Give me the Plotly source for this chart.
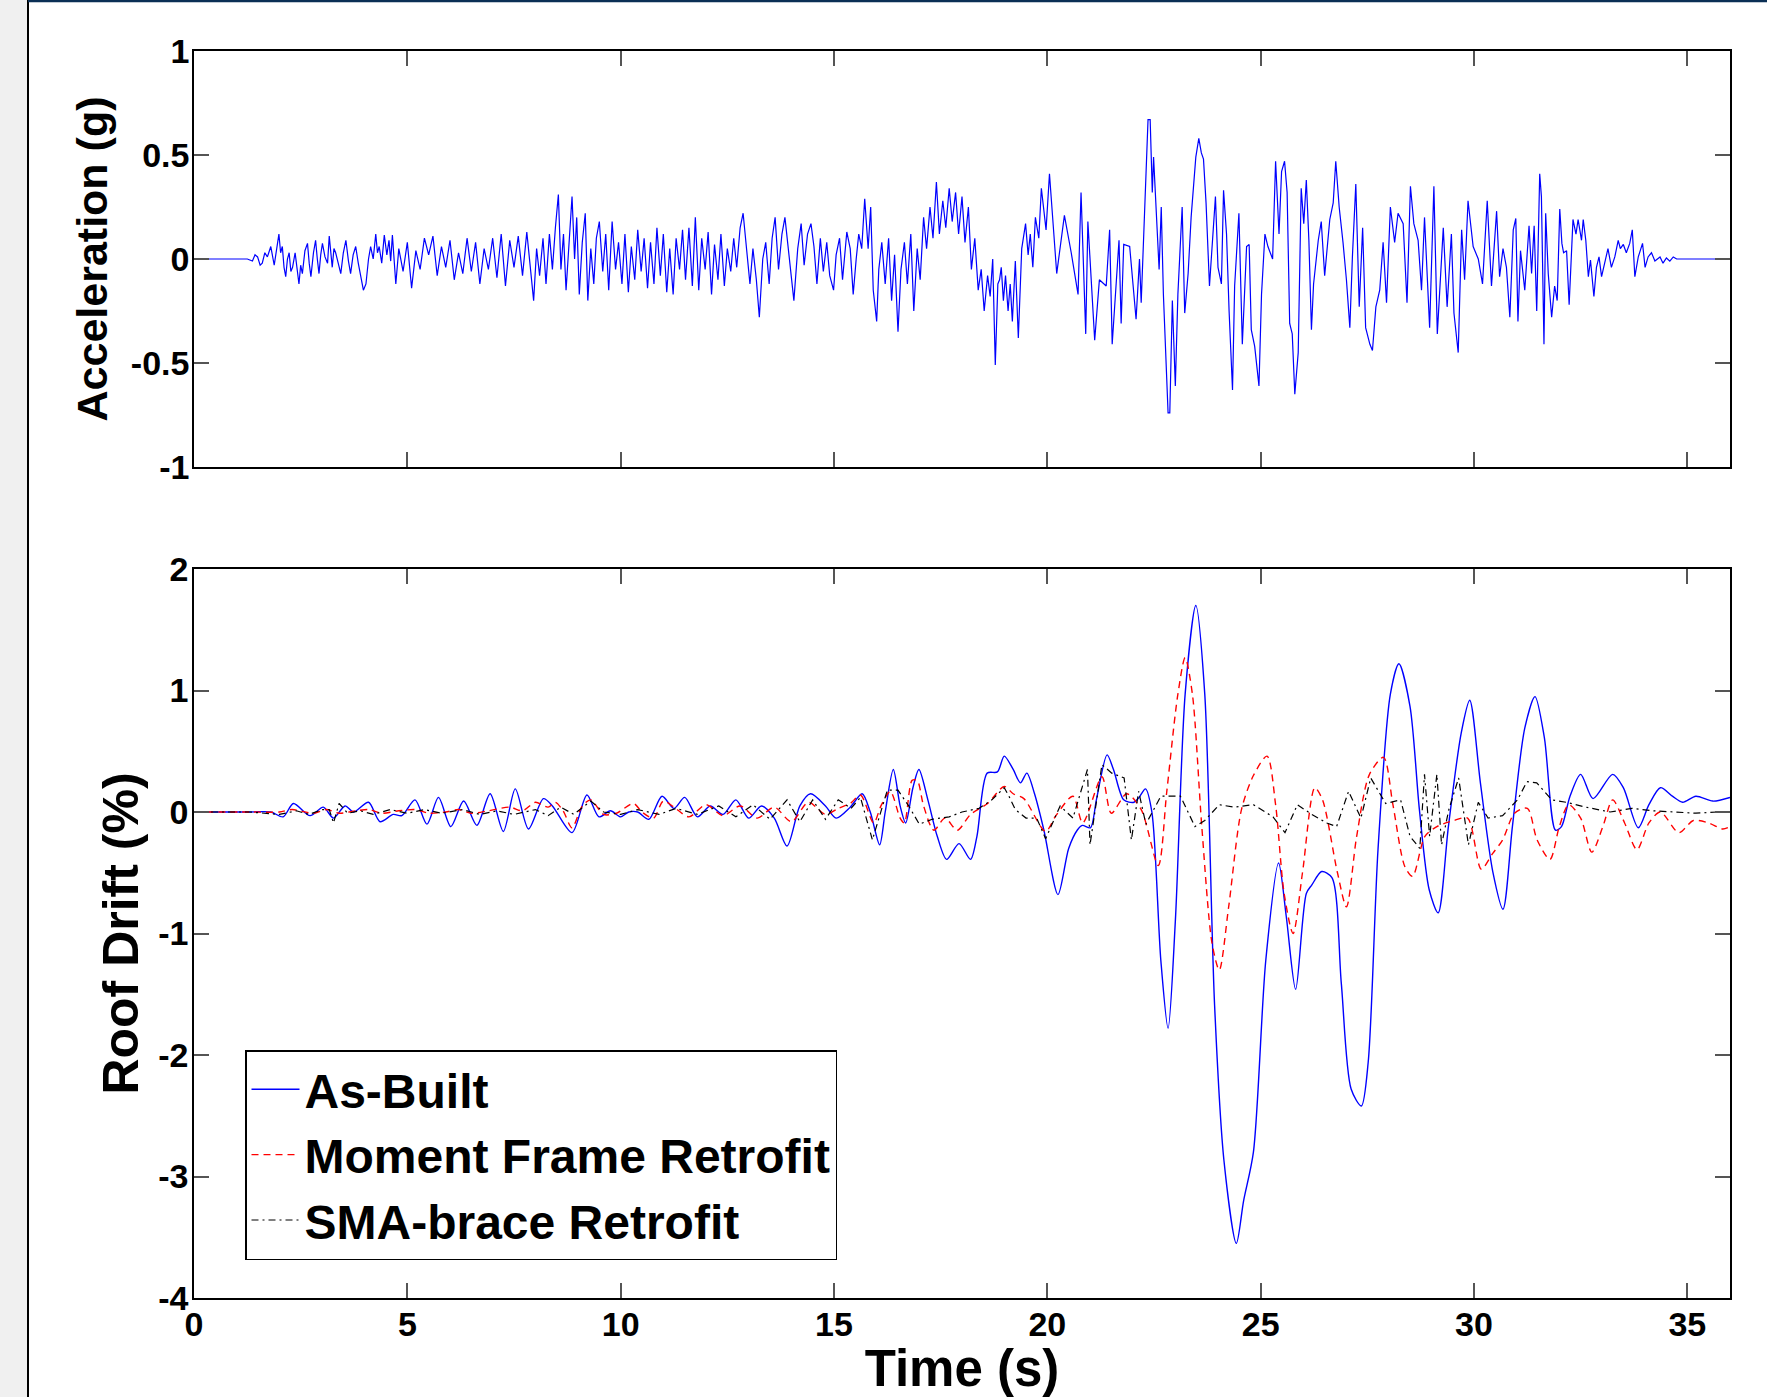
import plotly.graph_objects as go

# ---------------- data ----------------
acc_time = [0, 1.25,
    1.37, 1.43, 1.49, 1.55, 1.60, 1.66, 1.72, 1.80, 1.88, 1.94, 1.99, 2.03, 2.07, 2.11, 2.15, 2.19,
    2.23, 2.27, 2.31, 2.37, 2.42, 2.46, 2.50, 2.54, 2.60, 2.66, 2.70, 2.74, 2.80, 2.85, 2.89, 2.93,
    2.97, 3.01, 3.07, 3.13, 3.17, 3.21, 3.24, 3.28, 3.32, 3.38, 3.44, 3.50, 3.56, 3.62, 3.67, 3.73,
    3.79, 3.85, 3.91, 3.97, 4.03, 4.09, 4.14, 4.20, 4.26, 4.30, 4.34, 4.40, 4.46, 4.52, 4.57, 4.61,
    4.65, 4.69, 4.73,
    4.80, 4.90, 5.00, 5.10, 5.20, 5.30, 5.40, 5.50, 5.60, 5.70, 5.80, 5.90, 6.00, 6.10, 6.20, 6.30,
    6.40, 6.50, 6.60, 6.70, 6.80, 6.90, 7.00, 7.10, 7.20, 7.30, 7.40, 7.50, 7.60, 7.70, 7.80, 7.90,
    7.96, 8.03, 8.10, 8.18, 8.25, 8.33, 8.40, 8.47, 8.54, 8.60, 8.66, 8.72, 8.80, 8.86, 8.92, 8.97,
    9.03, 9.10, 9.17, 9.23, 9.30, 9.37, 9.43, 9.50, 9.58, 9.65, 9.72, 9.80, 9.88, 9.95, 10.03, 10.10,
    10.18, 10.25, 10.33, 10.40, 10.48, 10.55, 10.63, 10.70, 10.78, 10.85, 10.93, 11.00, 11.08, 11.15,
    11.23, 11.30, 11.38, 11.45, 11.52, 11.60, 11.68, 11.75, 11.83, 11.90, 11.98, 12.05, 12.13, 12.20,
    12.28, 12.35, 12.43, 12.50, 12.58, 12.65, 12.72, 12.80, 12.87, 12.95, 13.03, 13.10, 13.18, 13.25,
    13.33, 13.40, 13.48, 13.55, 13.62, 13.70, 13.78, 13.85, 13.92, 14.00, 14.06, 14.15, 14.23, 14.30,
    14.38, 14.46, 14.53, 14.60, 14.68, 14.75, 14.83, 14.90, 14.99, 15.05, 15.13, 15.20, 15.30, 15.38,
    15.45, 15.52, 15.58, 15.65, 15.72, 15.80, 15.86, 15.92, 16.00, 16.05, 16.12, 16.20, 16.28, 16.35,
    16.42, 16.50, 16.57, 16.65, 16.72, 16.80, 16.87, 16.95, 17.02, 17.10, 17.17, 17.25, 17.32, 17.40,
    17.47, 17.55, 17.62, 17.70, 17.77, 17.85, 17.92, 18.00, 18.07, 18.15, 18.22, 18.30, 18.38, 18.45,
    18.52, 18.60, 18.66, 18.72, 18.78, 18.84,
    18.88, 18.92, 18.97, 19.02, 19.08, 19.13, 19.18, 19.25, 19.32, 19.40, 19.49, 19.55, 19.60, 19.66,
    19.72, 19.80, 19.86, 19.97, 20.05, 20.22, 20.40, 20.56, 20.72, 20.79, 20.90, 20.95,
    21.11, 21.22, 21.38, 21.46, 21.52, 21.68, 21.73, 21.79, 21.93, 22.08, 22.16, 22.20, 22.25, 22.36,
    22.41, 22.46, 22.49, 22.57, 22.62, 22.67, 22.72, 22.83, 22.87, 22.93, 23.00, 23.06, 23.16, 23.22,
    23.30, 23.37, 23.48, 23.55, 23.61, 23.66, 23.72, 23.80, 23.88, 23.94, 24.00, 24.08, 24.13, 24.20,
    24.26, 24.34, 24.39, 24.49, 24.57, 24.67, 24.73, 24.78, 24.86, 24.96, 25.02, 25.10, 25.17, 25.28,
    25.35, 25.43, 25.49, 25.56, 25.62, 25.68, 25.74, 25.80, 25.88, 25.95, 26.01, 26.07, 26.13, 26.19,
    26.24, 26.35, 26.42, 26.50, 26.62, 26.70, 26.76, 26.84, 26.93, 27.01, 27.09, 27.15, 27.23, 27.31,
    27.39, 27.46, 27.56, 27.62, 27.70, 27.79, 27.87, 27.95, 28.04, 28.14, 28.22, 28.34, 28.43, 28.51,
    28.59, 28.69, 28.77, 28.84, 28.96, 29.06, 29.14, 29.21, 29.28, 29.37, 29.47, 29.53, 29.63, 29.71,
    29.78, 29.86, 29.98, 30.10, 30.20, 30.31, 30.41, 30.53,
    30.60, 30.68, 30.76, 30.84, 30.92, 30.98, 31.03, 31.09, 31.19, 31.29, 31.35, 31.41, 31.47, 31.54,
    31.58, 31.64, 31.68, 31.74, 31.82, 31.89, 31.95, 32.01, 32.06, 32.10, 32.17, 32.23, 32.32, 32.39,
    32.44, 32.52, 32.56, 32.62, 32.68, 32.73, 32.81, 32.87, 32.93, 32.99, 33.07, 33.14, 33.22, 33.30,
    33.38, 33.43, 33.50, 33.57, 33.65, 33.71, 33.77, 33.85, 33.95, 34.01, 34.08, 34.16, 34.24, 34.36,
    34.43, 34.51, 34.59, 34.67, 34.75, 34.83, 36.0]

acc_g = [0, 0,
    -0.01, 0.02, 0.01, -0.03, -0.02, 0.03, 0.01, 0.06, -0.03, 0.05, 0.12, 0.03, 0.06, -0.04, -0.085, 0.0,
    0.03, -0.06, -0.04, 0.03, -0.05, -0.12, -0.03, -0.07, 0.04, 0.075, -0.02, -0.085, 0.03, 0.09, 0.0, -0.07,
    0.02, 0.075, 0.01, -0.02, 0.11, 0.02, -0.04, 0.05, 0.03, -0.02, -0.07, 0.03, 0.09, -0.01, -0.07, 0.02,
    0.06, -0.02, -0.085, -0.15, -0.12, 0.0, 0.06, 0.0, 0.12, 0.03, 0.06, -0.02, 0.115, 0.02, 0.09, -0.01,
    0.115, 0.0, -0.12,
    0.05, -0.06, 0.08, -0.14, 0.04, -0.05, 0.10, 0.02, 0.11, -0.08, 0.06, -0.04, 0.09, -0.10, 0.03, -0.07,
    0.10, -0.06, 0.08, -0.12, 0.05, -0.05, 0.10, -0.09, 0.12, -0.13, 0.09, -0.04, 0.11, -0.08, 0.13, -0.10,
    -0.20, 0.05, -0.08, 0.10, -0.12, 0.12, -0.05, 0.15, 0.31, -0.05, 0.12, -0.15, 0.10, 0.30, 0.00, 0.20,
    -0.17, 0.08, 0.22, -0.20, 0.05, -0.12, 0.10, 0.18, -0.06, 0.12, -0.15, 0.18, -0.05, 0.08, -0.12, 0.12,
    -0.16, 0.06, -0.10, 0.14, -0.06, 0.10, -0.14, 0.08, -0.12, 0.15, -0.08, 0.12, -0.16, 0.05,
    -0.17, 0.10, -0.05, 0.14, -0.10, 0.15, -0.13, 0.20, -0.15, 0.10, -0.05, 0.13, -0.17, 0.07,
    -0.10, 0.12, -0.13, 0.05, -0.06, 0.10, -0.04, 0.15, 0.22, 0.05, -0.12, 0.05, -0.10, -0.28,
    0.00, 0.08, -0.12, 0.10, 0.20, -0.05, 0.12, 0.20, 0.06, -0.10, -0.20, 0.05, 0.17, -0.03,
    0.12, 0.17, 0.06, -0.12, 0.10, -0.06, 0.08, -0.08, -0.15, 0.02, 0.10, -0.10, 0.13, 0.05,
    -0.17, 0.00, 0.12, 0.05, 0.29, 0.05, 0.25, -0.15, -0.30, -0.05, 0.08, -0.12, 0.10, -0.20,
    0.02, -0.35, -0.05, 0.08, -0.12, 0.12, -0.25, 0.05, -0.10, 0.20, 0.05, 0.25, 0.10, 0.37,
    0.12, 0.28, 0.15, 0.34, 0.18, 0.32, 0.12, 0.30, 0.08, 0.25, -0.05, 0.10, -0.15, -0.05,
    -0.25, -0.08, -0.18, 0.00, -0.51, -0.12,
    -0.10, -0.04, -0.20, -0.08, -0.25, -0.12, -0.30, -0.01, -0.38, 0.05, 0.17, 0.02, 0.12, -0.04,
    0.20, 0.10, 0.34, 0.14, 0.41, -0.07, 0.21, 0.03, -0.17, 0.32, -0.36, 0.18,
    -0.39, -0.10, -0.13, 0.14, -0.41, 0.09, -0.31, 0.07, 0.06, -0.29, 0.00, -0.21, 0.06, 0.67,
    0.67, 0.32, 0.49, 0.12, -0.05, 0.25, -0.17, -0.74, -0.74, -0.20, -0.61, -0.17, 0.25, -0.26,
    -0.07, 0.20, 0.49, 0.58, 0.51, 0.48, 0.27, -0.13, 0.09, 0.30, -0.04, -0.12, 0.33, 0.12,
    -0.25, -0.63, -0.13, 0.22, -0.41, 0.06, 0.07, -0.34, -0.42, -0.61, -0.17, 0.12, 0.06, 0.00,
    0.47, 0.12, 0.42, 0.47, 0.32, -0.31, -0.36, -0.65, -0.45, 0.34, 0.17, 0.38, 0.09, -0.34,
    -0.12, 0.09, 0.18, -0.08, 0.19, 0.27, 0.47, 0.25, 0.08, -0.10, -0.33, 0.01, 0.36, -0.23,
    0.15, -0.33, -0.41, -0.44, -0.23, -0.15, 0.08, -0.21, 0.25, 0.08, 0.22, 0.17, -0.21, 0.35,
    0.17, 0.09, -0.15, 0.20, -0.33, 0.35, -0.36, -0.13, 0.15, -0.23, 0.12, -0.26, -0.45, 0.14,
    -0.10, 0.28, 0.06, 0.00, -0.12, 0.28, -0.13, 0.23,
    -0.085, 0.05, -0.04, -0.28, 0.14, 0.195, -0.30, 0.04, -0.15, 0.16, -0.07, 0.16, -0.25, 0.41,
    0.30, -0.41, 0.22, -0.07, -0.28, -0.13, -0.20, 0.24, 0.075, 0.03, 0.04, -0.22, 0.19, 0.12,
    0.19, 0.09, 0.19, 0.09, -0.085, -0.005, -0.18, -0.04, 0.01, -0.085, -0.005, 0.05, -0.04, 0.01,
    0.09, 0.05, 0.07, 0.03, 0.075, 0.14, -0.085, 0.01, 0.075, -0.04, 0.01, 0.03, -0.01, 0.01,
    -0.02, 0.005, -0.01, 0.01, 0.0, 0.0, 0.0]

asbuilt_time = [0, 1.3, 1.8, 2.09, 2.33, 2.72, 3.03, 3.27, 3.54, 3.74, 4.09, 4.36, 4.67, 4.87, 5.18,
    5.46, 5.73, 6.02, 6.32, 6.63, 6.94, 7.25, 7.53, 7.84, 8.19, 8.40, 8.86, 9.21, 9.49, 9.76, 10.0,
    10.19, 10.40, 10.66, 10.97, 11.25, 11.50, 11.80, 12.10, 12.40, 12.70, 13.00, 13.30, 13.60, 13.90,
    14.20, 14.45, 14.80, 15.05, 15.38, 15.66, 15.85, 16.07, 16.20, 16.39, 16.55, 16.68, 16.85, 16.99,
    17.20, 17.42, 17.64, 17.93, 18.20, 18.35, 18.59, 18.83, 18.99, 19.20, 19.37, 19.52, 19.70, 19.92,
    20.25, 20.50, 20.70, 20.82, 21.01, 21.15, 21.40, 21.55, 21.79, 22.03, 22.15, 22.30, 22.45, 22.66,
    22.83, 23.00, 23.23, 23.48, 23.69, 23.92, 24.14, 24.43, 24.60, 24.83, 25.12, 25.42, 25.60, 25.82,
    26.07, 26.20, 26.43, 26.67, 26.89, 27.12, 27.36, 27.52, 27.75, 28.04, 28.24, 28.50, 28.72, 28.95,
    29.16, 29.40, 29.70, 29.90, 30.15, 30.44, 30.68, 30.90, 31.19, 31.43, 31.65, 31.91, 32.05, 32.25,
    32.50, 32.79, 33.25, 33.50, 33.85, 34.10, 34.37, 34.65, 34.89, 35.20, 35.60, 36.0]
asbuilt_drift = [0, 0, 0.0, -0.04, 0.07, -0.03, 0.04, -0.05, 0.05, 0.0, 0.08, -0.08, -0.02, -0.03, 0.10,
    -0.10, 0.12, -0.12, 0.09, -0.11, 0.15, -0.16, 0.19, -0.14, 0.11, 0.05, -0.17, 0.14, -0.04, 0.01, -0.04,
    0.0, 0.0, -0.06, 0.13, 0.03, 0.12, -0.04, 0.05, -0.02, 0.10, -0.05, 0.05, -0.05, -0.28,
    0.05, 0.15, 0.05, -0.05, 0.04, 0.15, 0.0, -0.27, 0.0, 0.35, 0.05, -0.09, 0.20, 0.35,
    0.10, -0.20, -0.39, -0.26, -0.39, -0.20, 0.32, 0.33, 0.46, 0.35, 0.24, 0.32, 0.15, -0.15,
    -0.68, -0.30, -0.15, -0.11, -0.13, 0.10, 0.47, 0.35, 0.10, 0.08, 0.12, 0.19, 0.0, -1.22,
    -1.78, -0.90, 0.97, 1.70, 0.97, -1.59, -2.87, -3.55, -3.20, -2.80, -1.22, -0.42, -0.86, -1.46,
    -0.67, -0.60, -0.49, -0.54, -1.41, -2.28, -2.42, -2.06, -0.31, 0.97, 1.22, 0.87, 0.02, -0.64,
    -0.83, -0.12, 0.65, 0.92, 0.24, -0.49, -0.80, -0.12, 0.69, 0.95, 0.61, -0.15, -0.12, 0.13,
    0.31, 0.11, 0.31, 0.20, -0.13, 0.06, 0.20, 0.13, 0.08, 0.13, 0.09, 0.12]

moment_time = [0, 1.3, 2.0, 2.3, 2.8, 3.1, 3.4, 3.8, 4.1, 4.4, 4.8, 5.2, 5.5, 5.9, 6.2, 6.5, 6.9,
    7.4, 7.7, 8.0, 8.3, 8.47, 8.65, 8.86, 9.1, 9.3, 9.6, 9.9, 10.3, 10.5, 10.77, 11.0, 11.25, 11.6,
    12.0, 12.4, 12.8, 13.2, 13.6, 14.0, 14.4, 14.8, 15.1, 15.38, 15.62, 15.93, 16.1, 16.32, 16.55,
    16.65, 16.83, 16.95, 17.1, 17.34, 17.6, 17.89, 18.2, 18.6, 18.99, 19.2, 19.45, 19.96, 20.2,
    20.6, 20.83, 21.28, 21.5, 21.86, 22.2, 22.6, 22.8, 23.06, 23.23, 23.4, 23.62, 23.86, 24.03,
    24.25, 24.55, 24.83, 25.15, 25.35, 25.55, 25.76, 25.98, 26.27, 26.45, 26.8, 27.01, 27.25,
    27.55, 27.88, 28.1, 28.38, 28.56, 28.85, 29.13, 29.53, 29.85, 30.17, 30.44, 30.67, 30.95,
    31.25, 31.48, 31.78, 32.0, 32.22, 32.5, 32.76, 33.02, 33.25, 33.53, 33.82, 34.1, 34.37, 34.8,
    35.14, 35.5, 35.83, 36.0]
moment_drift = [0, 0, 0.0, 0.02, -0.01, 0.02, -0.01, 0.01, 0.02, -0.01, 0.01, 0.02, -0.01, 0.0, 0.02, -0.01, 0.01,
    0.04, 0.01, 0.08, 0.04, 0.08, 0.01, -0.13, 0.05, 0.10, -0.02, -0.01, 0.07, 0.0, -0.05, 0.09, 0.04, -0.04,
    0.06, -0.03, 0.05, -0.05, 0.04, -0.08, 0.08, -0.02, 0.03, 0.07, 0.14, -0.09, 0.05, 0.17, -0.05,
    -0.09, 0.26, 0.26, 0.05, -0.15, -0.05, -0.15, -0.02, 0.07, 0.21, 0.15, 0.11, -0.16, -0.03,
    0.13, -0.09, 0.29, -0.01, 0.15, 0.02, -0.44, 0.17, 0.97, 1.27, 0.97, -0.12, -1.08, -1.30,
    -0.78, 0.02, 0.30, 0.46, 0.06, -0.67, -1.00, -0.50, 0.20, 0.10, -0.50, -0.78, -0.20,
    0.31, 0.45, 0.06, -0.45, -0.53, -0.20, -0.12, -0.07, -0.05, -0.47, -0.34, -0.23, -0.01,
    0.03, -0.23, -0.39, -0.12, 0.06, -0.05, -0.33, -0.12, 0.10, -0.09, -0.31, -0.09, 0.0, -0.17,
    -0.07, -0.09, -0.14, -0.12]

sma_time = [0, 1.3, 2.0, 2.4, 2.7, 3.0, 3.17, 3.27, 3.4, 3.6, 3.9, 4.2, 4.6, 5.0, 5.4, 5.8, 6.3, 6.7,
    7.1, 7.5, 8.0, 8.3, 8.6, 8.9, 9.3, 9.6, 10.0, 10.4, 10.9, 11.3, 11.8, 12.3, 12.7, 13.1, 13.5,
    13.9, 14.2, 14.5, 14.8, 15.1, 15.4, 15.62, 15.9, 16.07, 16.25, 16.5, 16.75, 17.0, 17.3, 17.7,
    18.0, 18.4, 18.7, 18.99, 19.1, 19.25, 19.5, 19.75, 19.96, 20.3, 20.6, 20.94, 21.0, 21.28, 21.51,
    21.8, 21.97, 22.14, 22.31, 22.66, 23.12, 23.46, 23.69, 24.03, 24.38, 24.83, 25.29, 25.57, 25.86,
    26.2, 26.55, 26.78, 27.06, 27.35, 27.58, 27.93, 28.28, 28.5, 28.73, 28.84, 28.96, 29.13, 29.24,
    29.41, 29.64, 29.87, 30.1, 30.33, 30.67, 31.02, 31.24, 31.47, 31.82, 32.16, 32.62, 33.19, 33.7,
    34.2, 34.7, 35.2, 35.7, 36.0]
sma_drift = [0, 0, -0.02, 0.01, -0.02, 0.02, 0.02, -0.09, 0.07, -0.01, 0.01, -0.02, 0.02, -0.01, 0.02, -0.01, 0.02, -0.02,
    0.01, -0.02, 0.02, -0.03, 0.04, -0.02, 0.09, 0.0, -0.02, 0.02, -0.02, 0.03, -0.02, 0.05, -0.04, 0.06, -0.06,
    0.10, -0.08, 0.10, -0.06, 0.10, 0.03, 0.12, -0.23, -0.03, 0.18, 0.18, 0.05, -0.10, -0.06, -0.04,
    0.0, 0.03, 0.10, 0.20, 0.13, 0.02, -0.05, -0.05, -0.22, 0.05, -0.05, 0.35, -0.27, 0.39, 0.32,
    0.28, -0.23, 0.17, -0.10, 0.13, 0.13, -0.12, -0.07, 0.06, 0.04, 0.06, -0.04, -0.17, 0.06,
    -0.02, -0.09, -0.12, 0.17, -0.05, 0.28, 0.07, 0.10, -0.20, -0.30, 0.31, -0.20, 0.31, -0.27,
    0.02, 0.28, -0.27, 0.08, -0.05, -0.03, 0.10, 0.25, 0.24, 0.10, 0.08, 0.04, 0.0, 0.03,
    0.01, 0.0, -0.01, 0.0, 0.0]

series_names = ["As-Built", "Moment Frame Retrofit", "SMA-brace Retrofit"]

x_tickvals = [0, 5, 10, 15, 20, 25, 30, 35]
x_ticktext = ["0", "5", "10", "15", "20", "25", "30", "35"]
acc_tickvals = [-1, -0.5, 0, 0.5, 1]
acc_ticktext = ["-1", "-0.5", "0", "0.5", "1"]
drift_tickvals = [-4, -3, -2, -1, 0, 1, 2]
drift_ticktext = ["-4", "-3", "-2", "-1", "0", "1", "2"]

assert len(acc_time) == len(acc_g), (len(acc_time), len(acc_g))
assert len(asbuilt_time) == len(asbuilt_drift), (len(asbuilt_time), len(asbuilt_drift))
assert len(moment_time) == len(moment_drift), (len(moment_time), len(moment_drift))
assert len(sma_time) == len(sma_drift), (len(sma_time), len(sma_drift))

# ---------------- figure ----------------
W, H = 1767, 1397
ML, MR, MT, MB = 194, 37, 51, 99
PW, PH = W - ML - MR, H - MT - MB


def px(x):
    return (x - ML) / PW


def py(y):
    return (H - MB - y) / PH


FONT = "Liberation Sans, Arial, Helvetica, sans-serif"


def f(size):
    return dict(size=size, family=FONT, color="black", weight="bold")


fig = go.Figure()
fig.add_trace(go.Scatter(x=acc_time, y=acc_g, mode="lines", xaxis="x", yaxis="y",
                         line=dict(color="#0000ff", width=1.2), showlegend=False,
                         name="Acceleration"))
fig.add_trace(go.Scatter(x=asbuilt_time, y=asbuilt_drift, mode="lines", xaxis="x2", yaxis="y2",
                         name=series_names[0],
                         line=dict(color="#0000ff", width=1.4, shape="spline", smoothing=0.8)))
fig.add_trace(go.Scatter(x=moment_time, y=moment_drift, mode="lines", xaxis="x2", yaxis="y2",
                         name=series_names[1],
                         line=dict(color="#ff0000", width=1.4, dash="7px,5px", shape="spline",
                                   smoothing=0.8)))
fig.add_trace(go.Scatter(x=sma_time, y=sma_drift, mode="lines", xaxis="x2", yaxis="y2",
                         name=series_names[2],
                         line=dict(color="#000000", width=1.2, dash="7px,4px,2px,4px")))

axis_common = dict(showline=True, linecolor="#000000", linewidth=1.5, mirror="ticks",
                   ticks="inside", ticklen=15, tickwidth=1.5, tickcolor="#555555",
                   showgrid=False, zeroline=False, automargin=False)

top_bottom = 467
bot_top = 569
fig.update_layout(
    template="none",
    width=W, height=H,
    margin=dict(l=ML, r=MR, t=MT, b=MB, autoexpand=False),
    paper_bgcolor="white", plot_bgcolor="white",
    font=dict(family=FONT, color="black"),
    xaxis=dict(axis_common, domain=[0, 1], anchor="y", range=[0, 36],
               tickvals=x_tickvals, showticklabels=False),
    yaxis=dict(axis_common, domain=[py(top_bottom), 1], anchor="x", range=[-1, 1],
               tickvals=acc_tickvals, ticktext=acc_ticktext, tickfont=f(34),
               ticklabelstandoff=-4,
               title=dict(text="Acceleration (g)", font=f(43), standoff=10)),
    xaxis2=dict(axis_common, domain=[0, 1], anchor="y2", range=[0, 36],
                tickvals=x_tickvals, ticktext=x_ticktext, tickfont=f(34),
                ticklabelstandoff=-5,
                title=dict(text="Time (s)", font=f(51), standoff=0)),
    yaxis2=dict(axis_common, domain=[0, py(bot_top)], anchor="x2", range=[-4, 2],
                tickvals=drift_tickvals, ticktext=drift_ticktext, tickfont=f(34),
                ticklabelstandoff=-3,
                title=dict(text="Roof Drift (%)", font=f(50), standoff=4)),
    legend=dict(x=px(245), y=py(1260), xanchor="left", yanchor="bottom",
                bgcolor="white", bordercolor="black", borderwidth=1.5,
                font=f(48), itemwidth=48, tracegroupgap=0),
    shapes=[
        dict(type="rect", xref="paper", yref="paper", x0=px(0), x1=px(27), y0=py(H), y1=py(0),
             fillcolor="#f0f0f0", line=dict(width=0), layer="below"),
        dict(type="line", xref="paper", yref="paper", x0=px(28), x1=px(28), y0=py(H), y1=py(0),
             line=dict(color="#000000", width=2)),
        dict(type="line", xref="paper", yref="paper", x0=px(28), x1=px(W), y0=py(1), y1=py(1),
             line=dict(color="#0b2f55", width=2.5)),
    ],
)

fig.write_html("out.html", config={"displayModeBar": False},
               post_script="document.body.style.margin='0';document.body.style.overflow='hidden';")
